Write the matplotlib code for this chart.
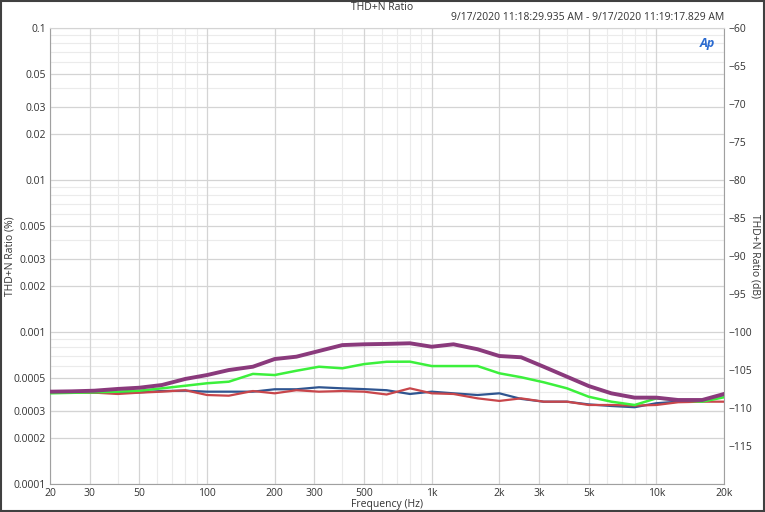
import numpy as np
import matplotlib
matplotlib.use("Agg")
import matplotlib.pyplot as plt
from matplotlib.ticker import FixedLocator, NullFormatter, NullLocator
from matplotlib.patches import Rectangle

plt.rcParams['font.family'] = ['Open Sans', 'DejaVu Sans']

# frequency points (Hz)
freq = [20, 25, 31.5, 40, 50, 63, 80, 100, 125, 160, 200, 250, 315, 400, 500,
        630, 800, 1000, 1250, 1600, 2000, 2500, 3150, 4000, 5000, 6300, 8000,
        10000, 12500, 16000, 20000]

# THD+N ratio (%) per channel
purple = [0.000405, 0.000407, 0.000411, 0.000422, 0.000430, 0.000448, 0.000491,
          0.000521, 0.000562, 0.000591, 0.000664, 0.000688, 0.000750, 0.000820,
          0.000830, 0.000835, 0.000843, 0.000800, 0.000830, 0.000770, 0.000695,
          0.000682, 0.000591, 0.000508, 0.000441, 0.000395, 0.000370, 0.000370,
          0.000357, 0.000357, 0.000391]
green = [0.000395, 0.000398, 0.000401, 0.000405, 0.000411, 0.000426, 0.000443,
         0.000460, 0.000471, 0.000530, 0.000521, 0.000556, 0.000591, 0.000577,
         0.000615, 0.000637, 0.000638, 0.000597, 0.000597, 0.000597, 0.000535,
         0.000504, 0.000467, 0.000426, 0.000375, 0.000348, 0.000331, 0.000366,
         0.000357, 0.000348, 0.000372]
blue = [0.000405, 0.000402, 0.000399, 0.000399, 0.000401, 0.000409, 0.000411,
        0.000405, 0.000405, 0.000405, 0.000420, 0.000420, 0.000433, 0.000426,
        0.000421, 0.000414, 0.000391, 0.000405, 0.000395, 0.000385, 0.000395,
        0.000363, 0.000348, 0.000348, 0.000334, 0.000326, 0.000320, 0.000340,
        0.000348, 0.000357, 0.000385]
red = [0.000399, 0.000399, 0.000399, 0.000391, 0.000399, 0.000405, 0.000414,
       0.000385, 0.000381, 0.000409, 0.000395, 0.000414, 0.000405, 0.000409,
       0.000405, 0.000388, 0.000426, 0.000395, 0.000391, 0.000366, 0.000352,
       0.000366, 0.000348, 0.000348, 0.000331, 0.000331, 0.000328, 0.000331,
       0.000345, 0.000348, 0.000348]

x_ticks = [20, 30, 50, 100, 200, 300, 500, 1000, 2000, 3000, 5000, 10000, 20000]
x_labels = ['20', '30', '50', '100', '200', '300', '500', '1k', '2k', '3k', '5k', '10k', '20k']
y_ticks = [0.0001, 0.0002, 0.0003, 0.0005, 0.001, 0.002, 0.003, 0.005,
           0.01, 0.02, 0.03, 0.05, 0.1]
y_labels = ['0.0001', '0.0002', '0.0003', '0.0005', '0.001', '0.002', '0.003',
            '0.005', '0.01', '0.02', '0.03', '0.05', '0.1']
db_ticks = [-115, -110, -105, -100, -95, -90, -85, -80, -75, -70, -65, -60]

fs = 7.5
fig = plt.figure(figsize=(7.65, 5.12), dpi=100)
ax = fig.add_axes([50 / 765, 1 - 484 / 512, 674 / 765, 456 / 512])

ax.set_xscale('log')
ax.set_yscale('log')
ax.set_xlim(20, 20000)
ax.set_ylim(0.0001, 0.1)

# grid: minor lines at every 1..9 multiple, major at labelled ticks
minor_x = [m * 10 ** e for e in range(1, 5) for m in range(1, 10)]
minor_x = [v for v in minor_x if 20 <= v <= 20000 and v not in x_ticks]
minor_y = [m * 10 ** e for e in range(-4, -1) for m in range(1, 10)]
minor_y = [v for v in minor_y if v not in y_ticks]
for v in minor_x:
    ax.axvline(v, color='#ebebeb', lw=0.8, zorder=0)
for v in minor_y:
    ax.axhline(v, color='#ebebeb', lw=0.8, zorder=0)
for v in x_ticks:
    ax.axvline(v, color='#d4d4d4', lw=0.9, zorder=0)
for v in y_ticks:
    ax.axhline(v, color='#d4d4d4', lw=0.9, zorder=0)

ax.xaxis.set_major_locator(FixedLocator(x_ticks))
ax.set_xticklabels(x_labels)
ax.xaxis.set_minor_locator(NullLocator())
ax.xaxis.set_minor_formatter(NullFormatter())
ax.yaxis.set_major_locator(FixedLocator(y_ticks))
ax.set_yticklabels(y_labels)
ax.yaxis.set_minor_locator(NullLocator())
ax.yaxis.set_minor_formatter(NullFormatter())
ax.tick_params(axis='both', length=0, labelsize=fs, colors='#333333', pad=3)

ax.plot(freq, red, color='#c8464b', lw=1.6, zorder=3)
ax.plot(freq, blue, color='#2f5590', lw=1.6, zorder=2)
ax.plot(freq, green, color='#3cf03c', lw=1.8, zorder=4)
ax.plot(freq, purple, color='#8a3a7c', lw=2.8, zorder=5)

ax.spines['top'].set_color('#d4d4d4')
ax.spines['right'].set_color('#a0a0a0')
ax.spines['left'].set_color('#a0a0a0')
ax.spines['bottom'].set_color('#a0a0a0')

ax2 = ax.twinx()
ax2.set_ylim(-120, -60)
ax2.yaxis.set_major_locator(FixedLocator(db_ticks))
ax2.tick_params(axis='y', length=0, labelsize=fs, colors='#333333', pad=3)
for s in ax2.spines.values():
    s.set_visible(False)

fig.text(10 / 765, 0.5, 'THD+N Ratio (%)', rotation=90, ha='center', va='center',
         fontsize=fs, color='#333333')
fig.text(755 / 765, 0.5, 'THD+N Ratio (dB)', rotation=-90, ha='center', va='center',
         fontsize=fs, color='#333333')
ax.set_xlabel('Frequency (Hz)', fontsize=fs, color='#333333', labelpad=0)

fig.text(0.5, 1 - 7 / 512, 'THD+N Ratio', ha='center', va='center',
         fontsize=fs, color='#333333')
fig.text(724 / 765, 1 - 18 / 512,
         '9/17/2020 11:18:29.935 AM - 9/17/2020 11:19:17.829 AM',
         ha='right', va='center', fontsize=fs, color='#333333')

# AP logo
ax.text(0.975, 0.965, 'Ap', transform=ax.transAxes, ha='center', va='center',
        fontsize=9, fontweight='bold', style='italic', color='#2a6ad0')

# outer border
fig.patches.append(Rectangle((0.001, 0.001), 0.998, 0.998, transform=fig.transFigure,
                             fill=False, edgecolor='#404040', lw=1.5))

fig.savefig('out.png', dpi=100)
